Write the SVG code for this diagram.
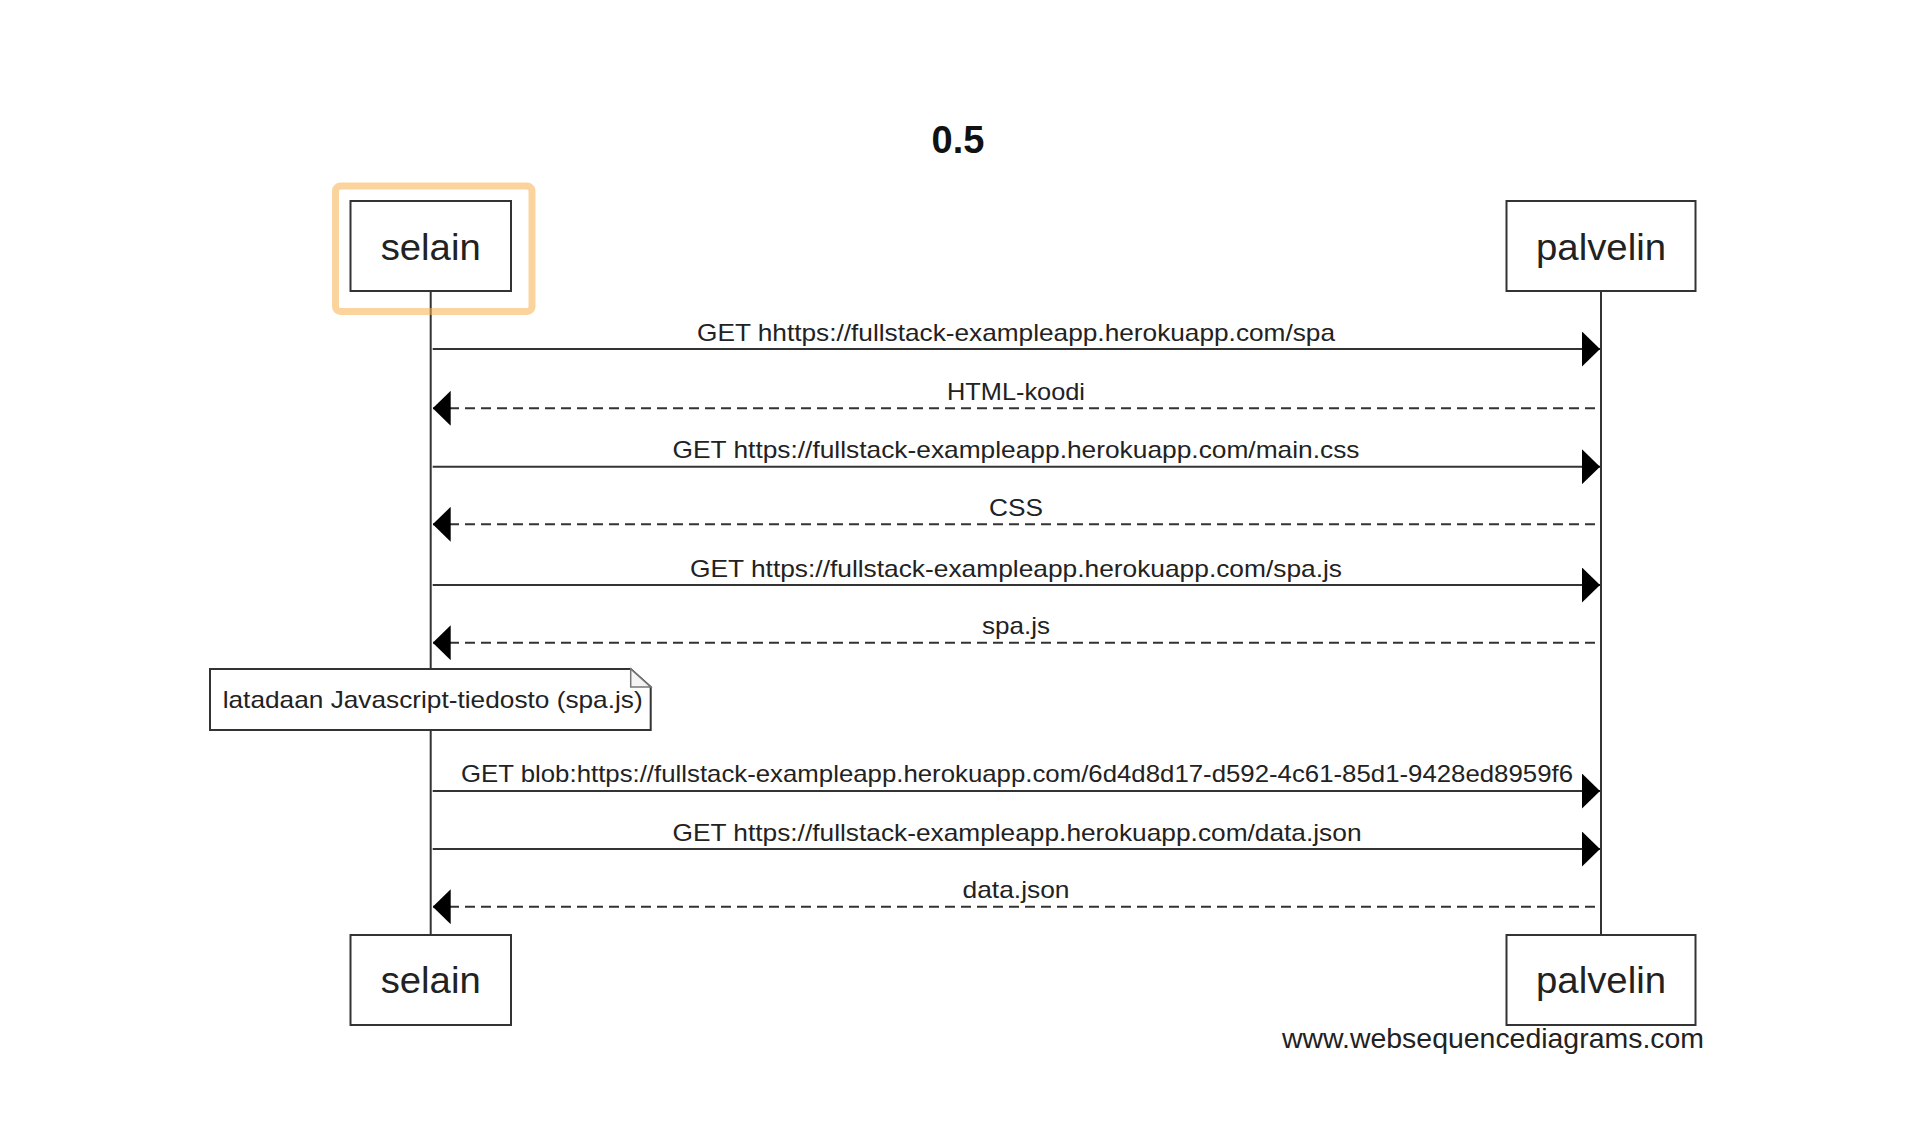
<svg xmlns="http://www.w3.org/2000/svg" width="1922" height="1146" viewBox="0 0 1922 1146">
  <style>
    .box { fill: #ffffff; stroke: #333333; stroke-width: 2; }
    .life { stroke: #333333; stroke-width: 2; fill: none; }
    .msg { stroke: #333333; stroke-width: 2; fill: none; }
    .ret { stroke: #333333; stroke-width: 2; fill: none; stroke-dasharray: 10 6; }
    .actor { font-family: "Liberation Sans", Arial, sans-serif; font-size: 37px; fill: #222222; text-anchor: middle; }
    .lbl { font-family: "Liberation Sans", Arial, sans-serif; font-size: 24px; fill: #222222; text-anchor: middle; }
    .note { fill: #ffffff; stroke: #333333; stroke-width: 2; }
    .fold { fill: #f4f4f4; stroke: #777777; stroke-width: 1.5; }
    .title { font-family: "Liberation Sans", Arial, sans-serif; font-size: 38px; font-weight: bold; fill: #111111; text-anchor: middle; }
    .wm { font-family: "Liberation Sans", Arial, sans-serif; font-size: 28px; fill: #222222; }
  </style>
  <defs>
    <marker id="ah" markerUnits="userSpaceOnUse" markerWidth="18" markerHeight="35" refX="18" refY="17.5" orient="auto" viewBox="0 0 18 35">
      <path d="M0,0 L18,17.5 L0,35 Z" fill="#000000"/>
    </marker>
  </defs>
  <rect x="0" y="0" width="1922" height="1146" fill="#ffffff"/>

  <text class="title" x="958" y="153">0.5</text>

  <g id="lifelines">
    <line class="life" x1="430.7" y1="291" x2="430.7" y2="935"/>
    <line class="life" x1="1601" y1="291" x2="1601" y2="935"/>
  </g>

  <g id="selain-top">
    <rect class="box" x="350.5" y="201" width="160.5" height="90"/>
    <text class="actor" x="430.7" y="260" textLength="100" lengthAdjust="spacingAndGlyphs">selain</text>
  </g>
  <g id="palvelin-top">
    <rect class="box" x="1506.5" y="201" width="189" height="90"/>
    <text class="actor" x="1601" y="260" textLength="130" lengthAdjust="spacingAndGlyphs">palvelin</text>
  </g>
  <g id="selain-bottom">
    <rect class="box" x="350.5" y="935" width="160.5" height="90"/>
    <text class="actor" x="430.7" y="993" textLength="100" lengthAdjust="spacingAndGlyphs">selain</text>
  </g>
  <g id="palvelin-bottom">
    <rect class="box" x="1506.5" y="935" width="189" height="90"/>
    <text class="actor" x="1601" y="993" textLength="130" lengthAdjust="spacingAndGlyphs">palvelin</text>
  </g>

  <g id="connectors">
    <line class="msg" x1="432.7" y1="349" x2="1600" y2="349" marker-end="url(#ah)"/>
    <text class="lbl" x="1016" y="340.5" textLength="638" lengthAdjust="spacingAndGlyphs">GET hhttps://fullstack-exampleapp.herokuapp.com/spa</text>

    <line class="ret" x1="1595" y1="408.3" x2="432.7" y2="408.3" marker-end="url(#ah)"/>
    <text class="lbl" x="1016" y="399.8" textLength="138" lengthAdjust="spacingAndGlyphs">HTML-koodi</text>

    <line class="msg" x1="432.7" y1="466.7" x2="1600" y2="466.7" marker-end="url(#ah)"/>
    <text class="lbl" x="1016" y="458.2" textLength="687" lengthAdjust="spacingAndGlyphs">GET https://fullstack-exampleapp.herokuapp.com/main.css</text>

    <line class="ret" x1="1595" y1="524.3" x2="432.7" y2="524.3" marker-end="url(#ah)"/>
    <text class="lbl" x="1016" y="515.8" textLength="54" lengthAdjust="spacingAndGlyphs">CSS</text>

    <line class="msg" x1="432.7" y1="585" x2="1600" y2="585" marker-end="url(#ah)"/>
    <text class="lbl" x="1016" y="576.5" textLength="652" lengthAdjust="spacingAndGlyphs">GET https://fullstack-exampleapp.herokuapp.com/spa.js</text>

    <line class="ret" x1="1595" y1="642.7" x2="432.7" y2="642.7" marker-end="url(#ah)"/>
    <text class="lbl" x="1016" y="634.2" textLength="68" lengthAdjust="spacingAndGlyphs">spa.js</text>

    <line class="msg" x1="432.7" y1="791" x2="1600" y2="791" marker-end="url(#ah)"/>
    <text class="lbl" x="1017" y="782" textLength="1112" lengthAdjust="spacingAndGlyphs">GET blob:https://fullstack-exampleapp.herokuapp.com/6d4d8d17-d592-4c61-85d1-9428ed8959f6</text>

    <line class="msg" x1="432.7" y1="849" x2="1600" y2="849" marker-end="url(#ah)"/>
    <text class="lbl" x="1017" y="840.5" textLength="689" lengthAdjust="spacingAndGlyphs">GET https://fullstack-exampleapp.herokuapp.com/data.json</text>

    <line class="ret" x1="1595" y1="906.7" x2="432.7" y2="906.7" marker-end="url(#ah)"/>
    <text class="lbl" x="1016" y="898.2" textLength="107" lengthAdjust="spacingAndGlyphs">data.json</text>
  </g>

  <g id="note">
    <path class="note" d="M210,669 L630.7,669 L650.7,687 L650.7,730 L210,730 Z"/>
    <path class="fold" d="M630.7,669 L630.7,687 L650.7,687 Z"/>
    <text class="lbl" x="222.7" y="708" style="text-anchor:start" textLength="420" lengthAdjust="spacingAndGlyphs">latadaan Javascript-tiedosto (spa.js)</text>
  </g>

  <g id="highlight">
    <rect x="335.5" y="186" width="196.5" height="125.5" rx="5" fill="none" stroke="#F5B04A" stroke-opacity="0.55" stroke-width="7"/>
  </g>

  <text class="wm" x="1282" y="1048" textLength="422" lengthAdjust="spacingAndGlyphs">www.websequencediagrams.com</text>
</svg>
